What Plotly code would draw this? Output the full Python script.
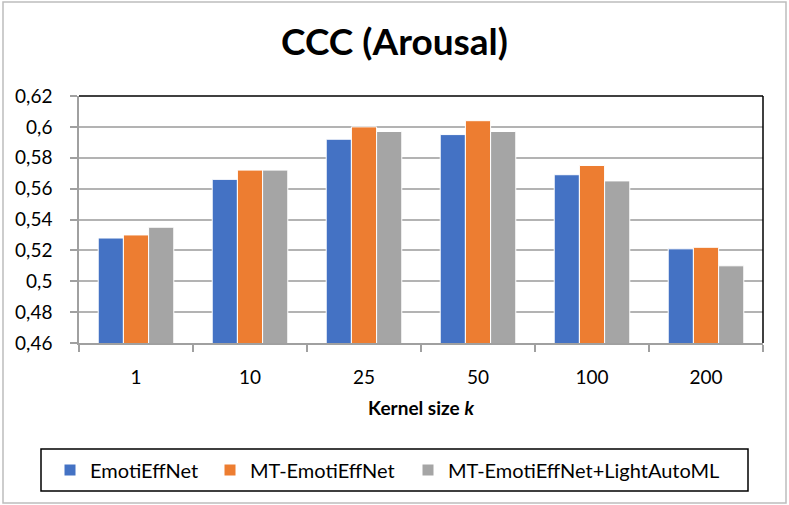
import plotly.graph_objects as go

categories = ["1", "10", "25", "50", "100", "200"]
emotieffnet = [0.528, 0.566, 0.592, 0.595, 0.569, 0.521]
mt_emotieffnet = [0.530, 0.572, 0.600, 0.604, 0.575, 0.522]
mt_lightautoml = [0.535, 0.572, 0.597, 0.597, 0.565, 0.510]
series_names = ["EmotiEffNet", "MT-EmotiEffNet", "MT-EmotiEffNet+LightAutoML"]
colors = ["#4472C4", "#ED7D31", "#A5A5A5"]

FONT = "Lato"
W, H = 789, 505
L, R, T, B = 79, 26, 96, 162
PW, PH = W - L - R, H - T - B

def px(x):
    return (x - L) / PW

def py(y):
    return (H - B - y) / PH

fig = go.Figure()
legend_ids = ["legend", "legend2", "legend3"]
for name, vals, c, lg in zip(series_names, [emotieffnet, mt_emotieffnet, mt_lightautoml], colors, legend_ids):
    fig.add_trace(go.Bar(x=categories, y=vals, name=name, legend=lg, showlegend=True,
                         marker=dict(color=c, line=dict(color="white", width=1))))

legend_lefts = [50, 210, 408]
leg_common = dict(orientation="h", xanchor="left", yanchor="middle", borderwidth=0,
                  xref="container", yref="container",
                  font=dict(size=20, family=FONT), bgcolor="rgba(0,0,0,0)", itemwidth=30)

fig.update_layout(
    width=W, height=H,
    showlegend=True,
    paper_bgcolor="white", plot_bgcolor="white",
    separators=", ",
    barmode="group", bargap=0.337, bargroupgap=0,
    margin=dict(l=L, r=R, t=T, b=B),
    font=dict(family=FONT, color="black"),
    title=dict(text="<b>CCC (Arousal)</b>", x=0.5, xanchor="center", y=1 - 42/H, yanchor="middle",
               font=dict(size=37, family=FONT, color="black")),
    xaxis=dict(type="category", tickson="boundaries", ticks="outside", ticklen=7, tickcolor="#a0a0a0",
               tickwidth=1.5,
               showline=True, linecolor="#a0a0a0", linewidth=1.5, tickfont=dict(size=19),
               ticklabelstandoff=16,
               title=dict(text="<b>Kernel size <i>k</i></b>", font=dict(size=19), standoff=15)),
    yaxis=dict(range=[0.46, 0.62], dtick=0.02, tick0=0.46, showgrid=True, gridcolor="#b3b3b3", gridwidth=1.5,
               showline=True, linecolor="#a0a0a0", linewidth=1.5, tickfont=dict(size=19),
               ticks="outside", ticklen=7, tickcolor="#a0a0a0", tickwidth=1.5, ticklabelstandoff=14,
               zeroline=False),
    legend=dict(x=legend_lefts[0] / W, y=1 - 470 / H, **leg_common),
    legend2=dict(x=legend_lefts[1] / W, y=1 - 470 / H, **leg_common),
    legend3=dict(x=legend_lefts[2] / W, y=1 - 470 / H, **leg_common),
)
# top and right plot-area border (black)
fig.add_shape(type="line", xref="paper", yref="paper", x0=0, x1=1, y0=1, y1=1, line=dict(color="black", width=1.5))
fig.add_shape(type="line", xref="paper", yref="paper", x0=1, x1=1, y0=0, y1=1, line=dict(color="black", width=1.5))
# legend box
fig.add_shape(type="rect", xref="paper", yref="paper", x0=px(41), x1=px(748), y0=py(491), y1=py(449),
              line=dict(color="black", width=1.5))
# outer chart border
fig.add_shape(type="rect", xref="paper", yref="paper", x0=px(3), x1=px(786), y0=py(503), y1=py(2),
              line=dict(color="#bdbdbd", width=1.5))

fig.write_html("out.html", config={"displayModeBar": False},
               post_script="document.body.style.margin='0';")
